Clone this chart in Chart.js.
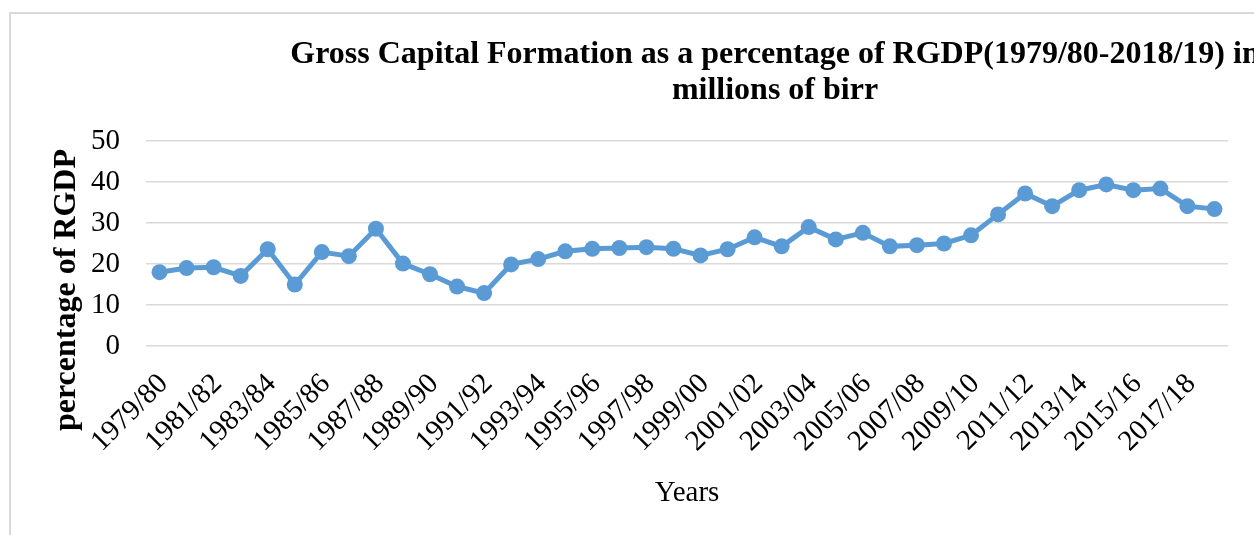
<!DOCTYPE html>
<html>
<head>
<meta charset="utf-8">
<script src="https://cdn.jsdelivr.net/npm/chart.js@4.4.1/dist/chart.umd.min.js"></script>
<style>
    html, body { margin: 0; padding: 0; background: #fff; overflow: hidden; }
    #frame { position: absolute; left: 9px; top: 12px; width: 1600px; height: 600px; border: 2px solid #d9d9d9; }
    #wrap { position: absolute; left: 0; top: 0; width: 1550px; height: 535px; }
</style>
</head>
<body>
<div id="frame"></div>
<div id="wrap"><canvas id="gcfChart"></canvas></div>
<script>
// years shown on the x axis
const years = [
    '1979/80', '1980/81', '1981/82', '1982/83', '1983/84', '1984/85', '1985/86', '1986/87',
    '1987/88', '1988/89', '1989/90', '1990/91', '1991/92', '1992/93', '1993/94', '1994/95',
    '1995/96', '1996/97', '1997/98', '1998/99', '1999/00', '2000/01', '2001/02', '2002/03',
    '2003/04', '2004/05', '2005/06', '2006/07', '2007/08', '2008/09', '2009/10', '2010/11',
    '2011/12', '2012/13', '2013/14', '2014/15', '2015/16', '2016/17', '2017/18', '2018/19'
];

// gross capital formation, % of RGDP
const gcfShare = [
    18.0, 19.0, 19.2, 17.1, 23.6, 15.0, 22.9, 21.9, 28.6, 20.1,
    17.5, 14.5, 12.9, 19.9, 21.2, 23.1, 23.7, 23.9, 24.1, 23.7,
    22.1, 23.6, 26.5, 24.3, 29.0, 26.0, 27.6, 24.3, 24.6, 25.0,
    27.0, 32.1, 37.2, 34.1, 38.0, 39.4, 38.0, 38.4, 34.1, 33.4
];

const yTicks = [0, 10, 20, 30, 40, 50];

const chartTitle = ['Gross Capital Formation as a percentage of RGDP(1979/80-2018/19) in', 'millions of birr'];
const yTitle = 'percentage of RGDP';
const xTitle = 'Years';

const serif = "'Liberation Serif', 'Times New Roman', serif";

// title is centred on the whole (wider) chart, y title sits below the axis middle:
// both drawn by hand
const textPlugin = {
    id: 'extraText',
    afterDraw(chart) {
        const c = chart.ctx;
        c.save();
        c.fillStyle = '#000';
        c.textAlign = 'center';
        c.textBaseline = 'alphabetic';
        c.font = 'bold 32px ' + serif;
        c.fillText(chartTitle[0], 775, 63);
        c.fillText(chartTitle[1], 775, 99);

        c.translate(67, 290);
        c.rotate(-Math.PI / 2);
        c.font = 'bold 32px ' + serif;
        c.textBaseline = 'middle';
        c.fillText(yTitle, 0, 0);
        c.restore();
    }
};

const ctx = document.getElementById('gcfChart').getContext('2d');
const gcfChart = new Chart(ctx, {
    type: 'line',
    plugins: [textPlugin],
    data: {
        labels: years,
        datasets: [{
            label: 'GCF',
            data: gcfShare,
            borderColor: '#5B9BD5',
            backgroundColor: '#5B9BD5',
            borderWidth: 5,
            pointRadius: 8,
            pointBorderWidth: 0,
            tension: 0
        }]
    },
    options: {
        responsive: true,
        maintainAspectRatio: false,
        animation: false,
        layout: { padding: { left: 0, right: 322, top: 141, bottom: 0 } },
        plugins: {
            legend: { display: false },
            tooltip: { enabled: false },
            title: { display: false }
        },
        scales: {
            x: {
                offset: true,
                grid: { display: false },
                border: { display: false },
                ticks: {
                    autoSkip: false,
                    maxRotation: 45,
                    minRotation: 45,
                    padding: 13,
                    labelOffset: 4,
                    color: '#000',
                    font: { family: serif, size: 29 },
                    callback: (v, i) => (i % 2 === 0 ? years[i] : '')
                },
                title: {
                    display: true,
                    text: xTitle,
                    color: '#000',
                    font: { family: serif, size: 29 },
                    padding: { top: 0, bottom: 24 }
                },
                afterFit: (scale) => { scale.height = 189; }
            },
            y: {
                min: 0,
                max: 50,
                afterBuildTicks: (scale) => { scale.ticks = yTicks.map(v => ({ value: v })); },
                grid: { color: '#d9d9d9', lineWidth: 1.5, drawTicks: false },
                border: { display: false },
                ticks: {
                    padding: 26,
                    color: '#000',
                    font: { family: serif, size: 29 }
                },
                afterFit: (scale) => { scale.width = 146; }
            }
        }
    }
});
</script>
</body>
</html>
